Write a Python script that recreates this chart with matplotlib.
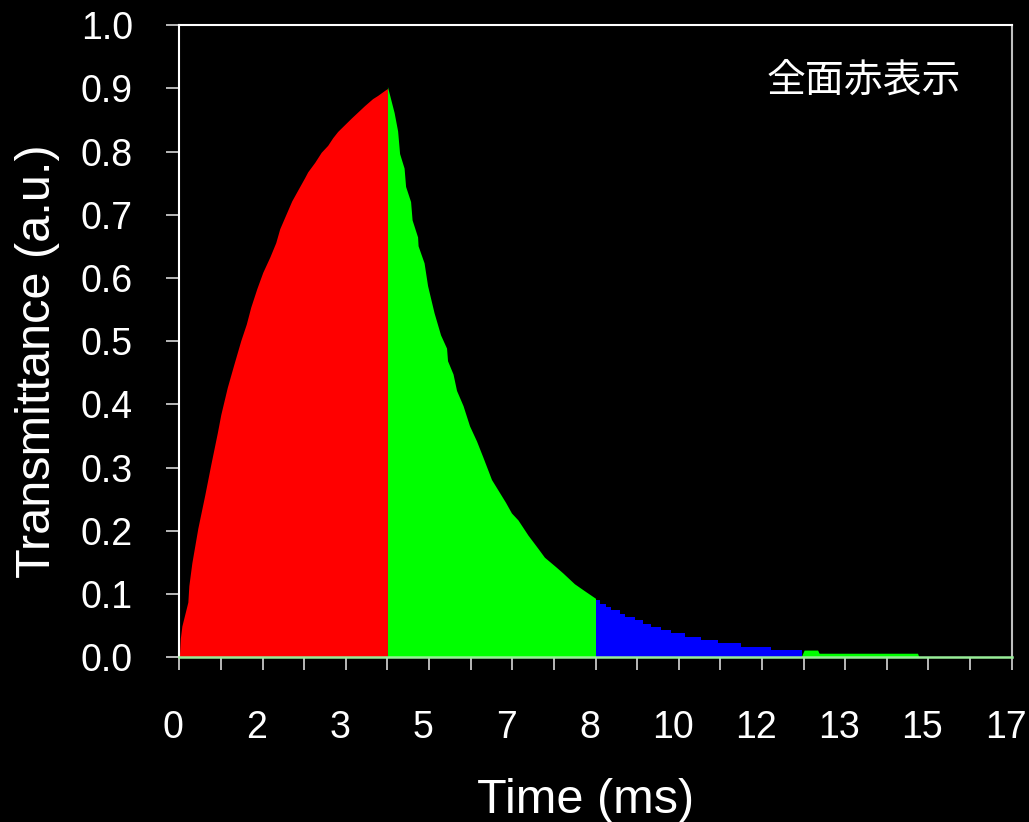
import matplotlib
matplotlib.use("Agg")
import matplotlib.pyplot as plt
import matplotlib.transforms as mtransforms
import numpy as np

plt.rcParams['font.family'] = ['Liberation Sans', 'Noto Sans CJK JP', 'DejaVu Sans']

# Red subfield: LC opening (ms, a.u.)
red_t = [0.0, 0.02, 0.05, 0.17, 0.19, 0.25, 0.37, 0.51, 0.63, 0.76, 0.83, 0.96,
         1.09, 1.23, 1.34, 1.43, 1.55, 1.67, 1.81, 1.93, 2.01, 2.13, 2.25, 2.39,
         2.51, 2.57, 2.71, 2.84, 2.97, 3.07, 3.17, 3.44, 3.71, 3.87, 3.97, 4.11, 4.167]
red_v = [0.0, 0.030, 0.049, 0.087, 0.113, 0.149, 0.204, 0.257, 0.305, 0.355, 0.384, 0.427,
         0.463, 0.501, 0.527, 0.554, 0.583, 0.609, 0.633, 0.656, 0.678, 0.700, 0.722, 0.742,
         0.759, 0.768, 0.783, 0.799, 0.810, 0.822, 0.832, 0.853, 0.873, 0.884, 0.889, 0.897, 0.900]

# Green subfield: decay
green_t = [4.167, 4.30, 4.37, 4.41, 4.50, 4.53, 4.63, 4.66, 4.77, 4.78, 4.90, 4.97,
           5.10, 5.23, 5.35, 5.37, 5.48, 5.55, 5.68, 5.81, 5.95, 6.08, 6.25, 6.39,
           6.53, 6.65, 6.78, 6.98, 7.18, 7.31, 7.55, 7.68, 7.91, 8.11, 8.333]
green_v = [0.903, 0.862, 0.833, 0.797, 0.774, 0.745, 0.721, 0.692, 0.665, 0.651, 0.624, 0.588,
           0.545, 0.510, 0.489, 0.469, 0.448, 0.422, 0.398, 0.366, 0.342, 0.316, 0.281, 0.263,
           0.245, 0.228, 0.217, 0.193, 0.172, 0.158, 0.142, 0.133, 0.116, 0.105, 0.093]

# Blue subfield: residual decay (stepped samples)
blue_t = [8.333, 8.427, 8.547, 8.647, 8.814, 8.914, 9.114, 9.281, 9.447, 9.647, 9.847,
          10.134, 10.447, 10.781, 11.247, 11.847, 12.467]
blue_v = [0.090, 0.084, 0.079, 0.074, 0.068, 0.063, 0.0585, 0.052, 0.047, 0.043, 0.0375,
          0.032, 0.027, 0.0217, 0.0163, 0.011, 0.011]

# Fourth subfield tail (green)
tail_t = [12.45, 12.51, 12.78, 12.81, 14.78, 14.81]
tail_v = [0.0, 0.011, 0.011, 0.006, 0.006, 0.0]

x_tick_labels = ['0', '2', '3', '5', '7', '8', '10', '12', '13', '15', '17']
y_tick_labels = ['0.0', '0.1', '0.2', '0.3', '0.4', '0.5', '0.6', '0.7', '0.8', '0.9', '1.0']

frame = 50 / 3  # 16.67 ms frame
fig = plt.figure(figsize=(10.29, 8.22), dpi=100, facecolor='black')
ax = fig.add_axes([0.1743, 0.2007, 0.8089, 0.7685])
ax.set_facecolor('black')

ax.fill_between(red_t, red_v, 0, color='#ff0000', lw=0)
ax.fill_between(green_t, green_v, 0, color='#00ff00', lw=0)
ax.fill_between(blue_t, blue_v, 0, step='post', color='#0000ff', lw=0)
ax.fill_between(tail_t, tail_v, 0, color='#00ff00', lw=0)

ax.set_xlim(0, frame)
ax.set_ylim(0, 1.0)

xt = np.linspace(0, frame, len(x_tick_labels))
ax.set_xticks(xt)
ax.set_xticklabels(x_tick_labels)
ax.set_xticks((xt[:-1] + xt[1:]) / 2, minor=True)
ax.set_yticks(np.linspace(0, 1, len(y_tick_labels)))
ax.set_yticklabels(y_tick_labels)

ax.tick_params(axis='x', which='both', direction='out', length=9.4, width=1.2,
               color='#d8d8d8', labelcolor='white', labelsize=27, pad=29)
ax.tick_params(axis='y', which='both', direction='out', length=9.4, width=1.2,
               color='#d8d8d8', labelcolor='white', labelsize=27, pad=24)

shift = mtransforms.ScaledTranslation(-6 / 100, 0, fig.dpi_scale_trans)
for lbl in ax.get_xticklabels():
    lbl.set_transform(lbl.get_transform() + shift)

for side in ['left', 'top']:
    ax.spines[side].set_color('white')
    ax.spines[side].set_linewidth(1.5)
ax.spines['right'].set_color('#bfbfbf')
ax.spines['right'].set_linewidth(1.5)
ax.spines['bottom'].set_color('#99ee99')
ax.spines['bottom'].set_linewidth(1.8)

ax.set_xlabel('Time (ms)', color='white', fontsize=35, va='baseline')
ax.xaxis.set_label_coords(0.4886, -0.2464)
ax.set_ylabel('Transmittance (a.u.)', color='white', fontsize=35, va='baseline')
ax.yaxis.set_label_coords(-0.1553, 0.4676)

ax.text(0.705, 0.913, '全面赤表示', transform=ax.transAxes, color='white',
        fontsize=28, ha='left', va='center', family=['Noto Sans CJK JP'])

fig.savefig('out.png', dpi=100, facecolor='black')
